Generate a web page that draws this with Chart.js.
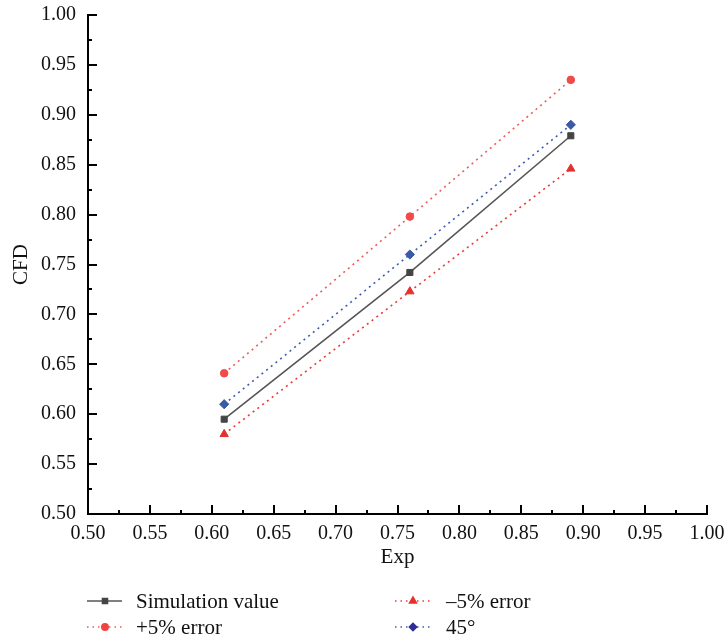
<!DOCTYPE html>
<html>
<head>
<meta charset="utf-8">
<script src="https://cdn.jsdelivr.net/npm/chart.js@4.4.1/dist/chart.umd.min.js"></script>
<style>
  html, body { margin: 0; padding: 0; background: #fff; }
  #wrap { width: 724px; height: 639px; }
</style>
</head>
<body>
<div id="wrap"><canvas id="myChart" width="724" height="639"></canvas></div>
<script>
// values
const expValues = [0.61, 0.76, 0.89];
const simValues = [0.595, 0.742, 0.879];
const plusValues = [0.641, 0.798, 0.935];
const minusValues = [0.580, 0.723, 0.846];
const lineValues = [0.61, 0.76, 0.89];
const axisMin = 0.50;
const axisMax = 1.00;
const majorStep = 0.05;
const seriesLabels = ['Simulation value', '+5% error', '\u20135% error', '45\u00b0'];

Chart.defaults.font.family = '"Liberation Serif", "DejaVu Serif", serif';
Chart.defaults.color = '#111';

function pts(ys) {
    return expValues.map((x, i) => ({ x: x, y: ys[i] }));
}

// inward major / minor tick marks on both axes
const tickMarks = {
    id: 'tickMarks',
    afterDraw(chart) {
        const { ctx, chartArea } = chart;
        const xs = chart.scales.x, ys = chart.scales.y;
        ctx.save();
        ctx.strokeStyle = '#000';
        ctx.lineWidth = 2;
        const n = Math.round((axisMax - axisMin) / (majorStep / 2));
        for (let i = 0; i <= n; i++) {
            const v = axisMin + i * majorStep / 2;
            const len = i % 2 === 0 ? 9 : 4;
            const px = Math.round(xs.getPixelForValue(v));
            ctx.beginPath();
            ctx.moveTo(px, chartArea.bottom);
            ctx.lineTo(px, chartArea.bottom - len);
            ctx.stroke();
            const py = Math.round(ys.getPixelForValue(v));
            ctx.beginPath();
            ctx.moveTo(chartArea.left, py);
            ctx.lineTo(chartArea.left + len, py);
            ctx.stroke();
        }
        ctx.restore();
    }
};

// two-column legend under the axis title
const legendBox = {
    id: 'legendBox',
    afterDraw(chart) {
        const ctx = chart.ctx;
        const order = [0, 2, 1, 3];
        const cols = [{ l: 87, r: 122, m: 105, t: 136 }, { l: 395, r: 431, m: 413, t: 446 }];
        const rows = [601, 627];
        const marks = [
            { style: 'rect', r: 3.6, color: '#454545' },
            { style: 'circle', r: 3.3, color: '#f0443f' },
            { style: 'triangle', r: 4.2, color: '#e8302a' },
            { style: 'rectRot', r: 3.8, color: '#2e2e9a' }
        ];
        order.forEach((di, k) => {
            const ds = chart.data.datasets[di];
            const c = cols[k % 2], yy = rows[Math.floor(k / 2)];
            ctx.save();
            ctx.strokeStyle = ds.borderColor;
            ctx.lineWidth = di === 0 ? 1.5 : 1.3;
            ctx.setLineDash(di === 0 ? [] : [1.5, 4]);
            ctx.beginPath();
            ctx.moveTo(c.l, yy);
            ctx.lineTo(c.r, yy);
            ctx.stroke();
            ctx.setLineDash([]);
            const mk = marks[di];
            ctx.fillStyle = mk.color;
            ctx.strokeStyle = mk.color;
            Chart.helpers.drawPoint(ctx, { pointStyle: mk.style, radius: mk.r, rotation: 0, borderWidth: 1 }, c.m, yy);
            ctx.fillStyle = '#111';
            ctx.font = '21px "Liberation Serif", "DejaVu Serif", serif';
            ctx.textBaseline = 'middle';
            ctx.textAlign = 'left';
            ctx.fillText(ds.label, c.t, yy + 1);
            ctx.restore();
        });
    }
};

const ctx = document.getElementById('myChart').getContext('2d');
const myChart = new Chart(ctx, {
    type: 'scatter',
    data: {
        datasets: [{
            label: seriesLabels[0],
            data: pts(simValues),
            showLine: true,
            borderColor: '#555555',
            borderWidth: 1.6,
            pointStyle: 'rect',
            pointRadius: 4.3,
            pointBackgroundColor: '#444444',
            pointBorderColor: '#444444',
            pointBorderWidth: 1
        }, {
            label: seriesLabels[1],
            data: pts(plusValues),
            showLine: true,
            borderColor: '#f05a5a',
            borderWidth: 1.6,
            borderDash: [2, 4],
            pointStyle: 'circle',
            pointRadius: 3.8,
            pointBackgroundColor: '#f04a4a',
            pointBorderColor: '#f04a4a',
            pointBorderWidth: 1
        }, {
            label: seriesLabels[2],
            data: pts(minusValues),
            showLine: true,
            borderColor: '#e83a3a',
            borderWidth: 1.6,
            borderDash: [2, 4],
            pointStyle: 'triangle',
            pointRadius: 4.8,
            pointBackgroundColor: '#e53030',
            pointBorderColor: '#e53030',
            pointBorderWidth: 1
        }, {
            label: seriesLabels[3],
            data: pts(lineValues),
            showLine: true,
            borderColor: '#3c5cb4',
            borderWidth: 1.6,
            borderDash: [2, 4],
            pointStyle: 'rectRot',
            pointRadius: 4.6,
            pointBackgroundColor: '#3a5aa8',
            pointBorderColor: '#3a5aa8',
            pointBorderWidth: 1
        }]
    },
    options: {
        responsive: false,
        animation: false,
        layout: { padding: { left: 0, top: 15, right: 17, bottom: 69 } },
        plugins: {
            legend: { display: false },
            tooltip: { enabled: false }
        },
        scales: {
            x: {
                type: 'linear',
                min: axisMin,
                max: axisMax,
                grid: { display: false, drawTicks: false },
                border: { display: true, color: '#000', width: 2 },
                ticks: {
                    stepSize: majorStep,
                    padding: 8,
                    font: { size: 20 },
                    color: '#111',
                    callback: v => v.toFixed(2)
                },
                title: { display: true, text: 'Exp', font: { size: 21 }, color: '#111', padding: { top: 0, bottom: 0 } },
                afterFit(scale) {
                    scale.height = 56;
                    scale.paddingLeft = 0;
                    scale.paddingRight = 0;
                }
            },
            y: {
                type: 'linear',
                min: axisMin,
                max: axisMax,
                grid: { display: false, drawTicks: false },
                border: { display: true, color: '#000', width: 2 },
                ticks: {
                    stepSize: majorStep,
                    padding: 12,
                    font: { size: 20 },
                    color: '#111',
                    callback: v => v.toFixed(2)
                },
                title: { display: true, text: 'CFD', font: { size: 21 }, color: '#111', padding: { top: 9, bottom: 0 } },
                afterFit(scale) {
                    scale.width = 88;
                    scale.paddingTop = 0;
                    scale.paddingBottom = 0;
                }
            }
        }
    },
    plugins: [tickMarks, legendBox]
});
</script>
</body>
</html>
